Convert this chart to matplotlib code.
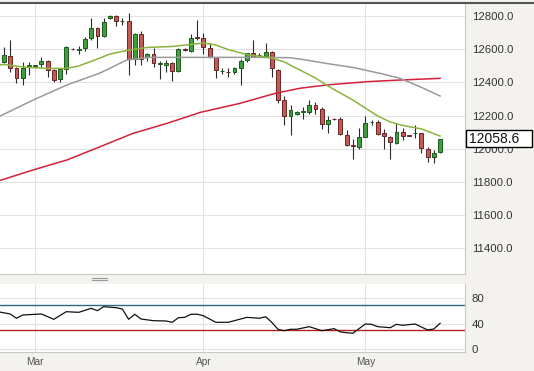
import matplotlib
matplotlib.use("Agg")
import matplotlib.pyplot as plt
import matplotlib.transforms as mtransforms
from matplotlib.lines import Line2D
from matplotlib.patches import Rectangle

plt.rcParams["font.family"] = ["Liberation Sans", "DejaVu Sans"]

# daily candles (6 per week)
opens = [12524, 12560, 12488, 12427, 12500, 12500, 12512, 12530, 12475, 12421,
         12482, 12603, 12596, 12609, 12669, 12730, 12681, 12790, 12802, 12772,
         12772, 12542, 12693, 12554, 12572, 12512, 12506, 12518, 12469, 12600,
         12590, 12675, 12669, 12609, 12554, 12469, 12466, 12463, 12488, 12536,
         12578, 12566, 12560, 12584, 12475, 12294, 12197, 12209, 12224, 12221,
         12264, 12240, 12149, 12182, 12179, 12082, 12019, 12010, 12070, 12158,
         12161, 12094, 12070, 12034, 12100, 12080, 12094, 12094, 11997, 11949,
         11979]
highs = [12615, 12657, 12494, 12524, 12524, 12506, 12554, 12536, 12482, 12488,
         12618, 12609, 12621, 12675, 12790, 12735, 12790, 12808, 12808, 12790,
         12820, 12700, 12711, 12578, 12609, 12530, 12536, 12524, 12609, 12609,
         12693, 12778, 12699, 12639, 12557, 12488, 12488, 12494, 12542, 12578,
         12657, 12578, 12639, 12590, 12482, 12318, 12264, 12227, 12252, 12294,
         12282, 12252, 12197, 12185, 12191, 12113, 12058, 12125, 12197, 12173,
         12173, 12119, 12076, 12155, 12125, 12085, 12143, 12097, 12010, 11991,
         12060]
lows = [12518, 12463, 12397, 12385, 12445, 12488, 12494, 12433, 12403, 12403,
        12451, 12596, 12572, 12590, 12657, 12609, 12675, 12784, 12742, 12748,
        12445, 12506, 12506, 12530, 12494, 12421, 12463, 12409, 12463, 12590,
        12584, 12657, 12572, 12548, 12427, 12451, 12433, 12451, 12385, 12524,
        12554, 12554, 12554, 12433, 12276, 12143, 12082, 12203, 12179, 12209,
        12209, 12119, 12094, 12176, 12082, 12016, 11937, 11997, 12070, 12143,
        12082, 11997, 11937, 12028, 12052, 12074, 12064, 11973, 11919, 11913,
        11973]
closes = [12566, 12488, 12427, 12488, 12506, 12503, 12530, 12475, 12415, 12482,
          12615, 12600, 12603, 12663, 12730, 12681, 12766, 12802, 12772, 12775,
          12542, 12693, 12542, 12572, 12518, 12515, 12518, 12469, 12603, 12596,
          12669, 12672, 12615, 12554, 12475, 12469, 12463, 12488, 12530, 12578,
          12557, 12566, 12584, 12488, 12294, 12197, 12234, 12221, 12226, 12264,
          12240, 12149, 12173, 12179, 12088, 12022, 12016, 12070, 12155, 12158,
          12088, 12076, 12040, 12100, 12076, 12079, 12096, 12004, 11949, 11973,
          12058.6]

# moving averages, sampled at candle indices
ma_fast_idx = [-1, 0, 3, 7, 10, 12, 15, 17, 20, 23, 27, 30, 32, 34, 36, 39, 43, 45,
               47, 50, 52, 54, 56, 58, 60, 62, 64, 67, 70]
ma_fast = [12505, 12509, 12494, 12485, 12485, 12500, 12542, 12572, 12596, 12612,
           12618, 12630, 12639, 12627, 12599, 12569, 12548, 12524, 12485, 12427,
           12379, 12336, 12294, 12245, 12197, 12161, 12140, 12119, 12076]
ma_mid_idx = [-1, 4.7, 10.1, 15.4, 19.7, 23.4, 28.3, 41.1, 45.9, 48, 51.8, 56,
              60.4, 63.6, 66.8, 70]
ma_mid = [12190, 12294, 12385, 12457, 12536, 12552, 12552, 12552, 12550, 12539,
          12515, 12491, 12455, 12425, 12374, 12318]
ma_slow_idx = [-1, 4.7, 10.1, 15.4, 20.7, 26.2, 31.5, 37.9, 43.5, 47.5, 51.8,
               58.3, 63.6, 70]
ma_slow = [11803, 11871, 11931, 12011, 12092, 12153, 12219, 12274, 12334, 12365,
           12385, 12405, 12415, 12425]

rsi_idx = [-1, 1, 2, 3, 6, 8, 10, 12, 14, 15, 16, 18, 19, 20, 21, 22, 24, 26, 27,
           28, 29, 30, 31, 32, 34, 36, 39, 41, 42, 43, 44, 45, 46, 47, 49, 51, 53,
           54, 55, 56, 58, 59, 60, 62, 63, 64, 66, 68, 69, 70]
rsi = [58.9, 55.3, 48.5, 53.7, 55.3, 46.9, 58.9, 57.9, 64.2, 60.5, 66.8, 65.2,
       63.1, 46.9, 54.8, 47.4, 44.7, 44.3, 42.2, 49.4, 50, 54.8, 55, 52.6, 42.2,
       42.2, 50, 48.5, 51, 42, 31, 29, 31.2, 31.2, 35.3, 29, 32.1, 27, 25.8,
       24.9, 39.5, 39, 35.3, 33.7, 39, 37.5, 39.5, 30.1, 31.7, 40.6]

month_pos = [5, 32, 58]
month_labels = ["Mar", "Apr", "May"]
price_ticks = [11400, 11600, 11800, 12000, 12200, 12400, 12600, 12800]
rsi_ticks = [0, 40, 80]

W, H = 534, 371
bg = "#f4f2ee"
fig = plt.figure(figsize=(W / 100, H / 100), dpi=100, facecolor=bg)
ax = fig.add_axes([0, 1 - 274 / H, 465 / W, 270 / H])
rax = fig.add_axes([0, 1 - 351.5 / H, 465 / W, 68 / H])

for a in (ax, rax):
    a.set_facecolor("white")
    for s in ("top", "left"):
        a.spines[s].set_visible(False)
    for s in ("right", "bottom"):
        a.spines[s].set_color("#c8c8c8")
        a.spines[s].set_linewidth(0.8)
    a.set_xlim(-0.64, 74.0)
    a.yaxis.tick_right()
    a.tick_params(length=0, labelsize=8.2, labelcolor="#333333", pad=5)
    a.set_xticks(month_pos)
    a.grid(True, color="#e3e3e3", lw=0.8)
    a.set_axisbelow(True)

# candles
xs = list(range(len(opens)))
up = [c >= o for o, c in zip(opens, closes)]
ax.vlines(xs, lows, highs, color="#2a2a2a", lw=0.8, zorder=2)
ax.bar(xs, [max(abs(c - o), 2) for o, c in zip(opens, closes)],
       bottom=[min(o, c) for o, c in zip(opens, closes)], width=0.62,
       color=["#3f9f3f" if u else "#c45a56" for u in up],
       edgecolor=["#1d5a1d" if u else "#6a2626" for u in up], lw=0.7, zorder=3)

ax.plot(ma_slow_idx, ma_slow, color="#d4213a", lw=1.1, zorder=4)
ax.plot(ma_mid_idx, ma_mid, color="#9a9a9a", lw=1.1, zorder=4)
ax.plot(ma_fast_idx, ma_fast, color="#8ab43c", lw=1.1, zorder=4)

ax.set_ylim(11241, 12875)
ax.set_yticks(price_ticks)
ax.set_yticklabels([f"{t:.1f}" for t in price_ticks])
ax.set_xticklabels([])

# last price box
last = closes[-1]
blend = mtransforms.blended_transform_factory(fig.transFigure, ax.transData)
fig.add_artist(Rectangle((465.5 / W, last - 52), 66 / W, 104, transform=blend,
                         fc="white", ec="black", lw=1.0, zorder=10))
fig.text(469.5 / W, last, f"{last:.1f}", transform=blend, fontsize=10,
         va="center", ha="left", color="#111111", zorder=11)

# RSI panel
rax.axhline(70, color="#2d6b7c", lw=1.0, zorder=2)
rax.axhline(30, color="#b52020", lw=1.0, zorder=2)
rax.plot(rsi_idx, rsi, color="#111111", lw=0.9, zorder=3)
rax.set_ylim(-3.8, 103.3)
rax.set_yticks(rsi_ticks)
rax.set_xticklabels(month_labels, fontsize=7.3, color="#555555")
rax.tick_params(axis="x", pad=4)

# top rule and panel separator handle
fig.add_artist(Line2D([0, 1], [1 - 2.5 / H, 1 - 2.5 / H], color="#555555", lw=1.5))
for yy in (277.5, 279.5):
    fig.add_artist(Line2D([92 / W, 107 / W], [1 - yy / H, 1 - yy / H],
                          color="#9a9a9a", lw=0.8))

fig.savefig("out.png", dpi=100, facecolor=bg)
